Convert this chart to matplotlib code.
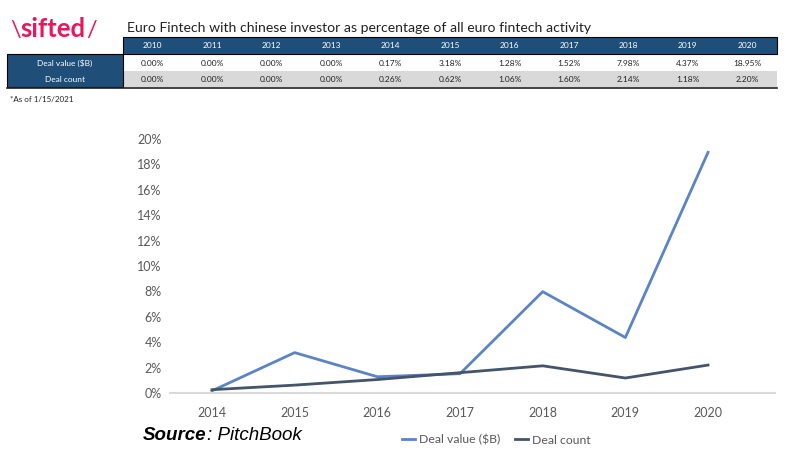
import matplotlib.pyplot as plt
from matplotlib.patches import Rectangle

plt.rcParams['font.family'] = ['Lato', 'DejaVu Sans']

# 表格数据
years = ['2010', '2011', '2012', '2013', '2014', '2015', '2016', '2017', '2018', '2019', '2020']
row_names = ['Deal value ($B)', 'Deal count']
deal_value = [0.00, 0.00, 0.00, 0.00, 0.17, 3.18, 1.28, 1.52, 7.98, 4.37, 18.95]
deal_count = [0.00, 0.00, 0.00, 0.00, 0.26, 0.62, 1.06, 1.60, 2.14, 1.18, 2.20]

# 图表只画2014年以后
chart_years = years[4:]
chart_value = deal_value[4:]
chart_count = deal_count[4:]
y_ticks = [0, 2, 4, 6, 8, 10, 12, 14, 16, 18, 20]

blue_dark = '#1f4e79'
c_value = '#5b83c7'
c_count = '#44546a'
grey_txt = '#595959'

fig = plt.figure(figsize=(7.9, 4.66), dpi=100)

# 顶部区域用像素坐标画
top = fig.add_axes([0, 0, 1, 1])
top.set_xlim(0, 790)
top.set_ylim(466, 0)
top.axis('off')

# logo
top.text(10, 30, '\\', color='#e8175d', fontsize=17, va='center', ha='left')
top.text(20, 29, 'sifted', color='#e8175d', fontsize=18.5, fontweight='bold', va='center', ha='left')
top.text(86, 30, '/', color='#e8175d', fontsize=17, va='center', ha='left')

# 标题
top.text(127, 28, 'Euro Fintech with chinese investor as percentage of all euro fintech activity',
         fontsize=10.1, color='#222222', va='center', ha='left')

x0, x1 = 123, 777
col_w = (x1 - x0) / len(years)
top.add_patch(Rectangle((x0, 37), x1 - x0, 17, facecolor=blue_dark, edgecolor='black', lw=0.8))
top.add_patch(Rectangle((x0, 71), x1 - x0, 16, facecolor='#d9d9d9', edgecolor='none'))
top.add_patch(Rectangle((7, 54), x0 - 7, 33, facecolor=blue_dark, edgecolor='black', lw=0.8))
top.plot([7, x1], [87.5, 87.5], color='#222222', lw=1.2)

for i, y in enumerate(years):
    cx = x0 + col_w * (i + 0.5)
    top.text(cx, 46, y, color='white', fontsize=6, ha='center', va='center')
    top.text(cx, 63, '%.2f%%' % deal_value[i], color='#222222', fontsize=6, ha='center', va='center')
    top.text(cx, 79, '%.2f%%' % deal_count[i], color='#222222', fontsize=6, ha='center', va='center')
top.text(65, 63, row_names[0], color='white', fontsize=6, ha='center', va='center')
top.text(65, 79, row_names[1], color='white', fontsize=6, ha='center', va='center')

top.text(10, 100, '*As of 1/15/2021', fontsize=5.8, color='#222222', ha='left', va='center')

# Source
src = top.text(143, 436, 'Source', fontsize=13.5, fontweight='bold', style='italic',
               family='Liberation Sans', ha='left', va='center')
top.annotate(': PitchBook', xy=(1, 0.5), xycoords=src, xytext=(0.5, 0), textcoords='offset points',
             fontsize=13.5, style='italic', family='Liberation Sans', ha='left', va='center')

# 折线图
ax = fig.add_axes([170 / 790, 73 / 466, 605 / 790, 254 / 466])
xs = range(len(chart_years))
ax.plot(xs, [v / 100 for v in chart_value], color=c_value, lw=2, label='Deal value ($B)')
ax.plot(xs, [v / 100 for v in chart_count], color=c_count, lw=2, label='Deal count')
ax.set_xlim(-0.508, 6.81)
ax.set_ylim(0, 0.20)
ax.set_xticks(list(xs))
ax.set_xticklabels(chart_years)
ax.set_yticks([t / 100 for t in y_ticks])
ax.set_yticklabels(['%d%%' % t for t in y_ticks])
ax.tick_params(length=0, labelsize=9, labelcolor=grey_txt)
ax.tick_params(axis='y', pad=6)
ax.tick_params(axis='x', pad=10)
for s in ['top', 'right', 'left']:
    ax.spines[s].set_visible(False)
ax.spines['bottom'].set_color('#d9d9d9')
ax.spines['bottom'].set_linewidth(1.5)
ax.patch.set_alpha(0)

leg = ax.legend(loc='center', bbox_to_anchor=(496 / 790, 1 - 440 / 466), bbox_transform=fig.transFigure,
                ncol=2, frameon=False, fontsize=8.8, handlelength=1.1, handletextpad=0.3, columnspacing=1.2)
for t in leg.get_texts():
    t.set_color(grey_txt)

fig.savefig('out.png', dpi=100)
